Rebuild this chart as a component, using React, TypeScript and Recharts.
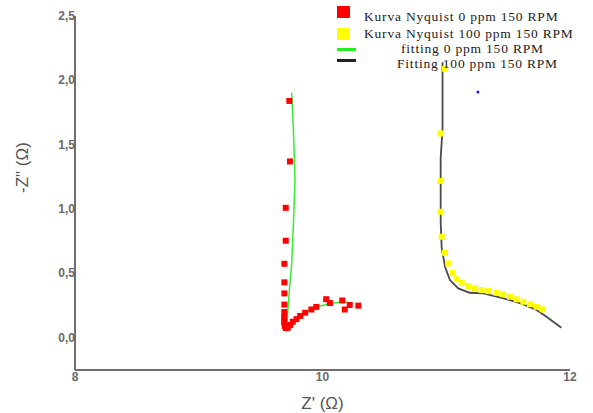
import React from "react";
import { ScatterChart, Scatter, XAxis, YAxis } from "recharts";

// Measured impedance, 0 ppm inhibitor at 150 RPM (Z', -Z'')
const nyquist0: { x: number; y: number }[] = [
  { x: 9.732, y: 1.84 },
  { x: 9.737, y: 1.37 },
  { x: 9.703, y: 1.01 },
  { x: 9.703, y: 0.754 },
  { x: 9.692, y: 0.575 },
  { x: 9.692, y: 0.431 },
  { x: 9.692, y: 0.345 },
  { x: 9.692, y: 0.258 },
  { x: 9.692, y: 0.2 },
  { x: 9.69, y: 0.16 },
  { x: 9.69, y: 0.12 },
  { x: 9.695, y: 0.09 },
  { x: 9.705, y: 0.075 },
  { x: 9.72, y: 0.08 },
  { x: 9.74, y: 0.1 },
  { x: 9.76, y: 0.125 },
  { x: 9.79, y: 0.145 },
  { x: 9.82, y: 0.17 },
  { x: 9.86, y: 0.195 },
  { x: 9.91, y: 0.22 },
  { x: 9.95, y: 0.24 },
  { x: 10.03, y: 0.3 },
  { x: 10.06, y: 0.27 },
  { x: 10.16, y: 0.29 },
  { x: 10.18, y: 0.22 },
  { x: 10.22, y: 0.255 },
  { x: 10.29, y: 0.25 },
];

// Measured impedance, 100 ppm inhibitor at 150 RPM
const nyquist100: { x: number; y: number }[] = [
  { x: 10.99, y: 2.09 },
  { x: 10.955, y: 1.588 },
  { x: 10.955, y: 1.218 },
  { x: 10.955, y: 0.979 },
  { x: 10.963, y: 0.785 },
  { x: 10.99, y: 0.661 },
  { x: 11.017, y: 0.578 },
  { x: 11.049, y: 0.505 },
  { x: 11.084, y: 0.456 },
  { x: 11.125, y: 0.428 },
  { x: 11.178, y: 0.402 },
  { x: 11.232, y: 0.384 },
  { x: 11.286, y: 0.371 },
  { x: 11.34, y: 0.363 },
  { x: 11.407, y: 0.35 },
  { x: 11.46, y: 0.338 },
  { x: 11.515, y: 0.32 },
  { x: 11.569, y: 0.299 },
  { x: 11.623, y: 0.28 },
  { x: 11.677, y: 0.262 },
  { x: 11.731, y: 0.241 },
  { x: 11.779, y: 0.221 },
];

// Equivalent-circuit fit, 0 ppm
const fit0: { x: number; y: number }[] = [
  { x: 9.751, y: 1.904 },
  { x: 9.764, y: 1.64 },
  { x: 9.778, y: 1.226 },
  { x: 9.764, y: 0.863 },
  { x: 9.751, y: 0.578 },
  { x: 9.73, y: 0.345 },
  { x: 9.716, y: 0.163 },
  { x: 9.711, y: 0.099 },
  { x: 9.751, y: 0.125 },
  { x: 9.845, y: 0.19 },
  { x: 9.95, y: 0.24 },
  { x: 10.06, y: 0.267 },
  { x: 10.17, y: 0.28 },
  { x: 10.25, y: 0.267 },
];

// Equivalent-circuit fit, 100 ppm
const fit100: { x: number; y: number }[] = [
  { x: 10.97, y: 2.14 },
  { x: 10.97, y: 1.62 },
  { x: 10.955, y: 1.4 },
  { x: 10.955, y: 0.9 },
  { x: 10.963, y: 0.7 },
  { x: 10.99, y: 0.552 },
  { x: 11.03, y: 0.449 },
  { x: 11.097, y: 0.384 },
  { x: 11.19, y: 0.35 },
  { x: 11.3, y: 0.345 },
  { x: 11.407, y: 0.32 },
  { x: 11.515, y: 0.293 },
  { x: 11.62, y: 0.262 },
  { x: 11.73, y: 0.216 },
  { x: 11.81, y: 0.163 },
  { x: 11.93, y: 0.078 },
];

// Stray marker
const strayPoint: { x: number; y: number }[] = [{ x: 11.256, y: 1.91 }];

const xTicks = [8, 10, 12];
const yTicks = [0, 0.5, 1, 1.5, 2, 2.5];

const legendItems = [
  { label: "Kurva Nyquist 0 ppm 150 RPM", kind: "square", color: "#ff0000", textLeft: 364, markTop: 6, textMid: 17 },
  { label: "Kurva Nyquist 100 ppm 150 RPM", kind: "square", color: "#ffff00", textLeft: 364, markTop: 28, textMid: 34 },
  { label: "fitting 0 ppm 150 RPM", kind: "line", color: "#22ee22", textLeft: 401, markTop: 48, textMid: 49 },
  { label: "Fitting 100 ppm 150 RPM", kind: "line", color: "#222222", textLeft: 397, markTop: 59, textMid: 64 },
];

const tickFont = "'Liberation Sans', Arial, sans-serif";

const Square = (size: number, color: string) => (props: any) => {
  const { cx, cy } = props;
  if (cx == null || cy == null) return null;
  return <rect x={cx - size / 2} y={cy - size / 2} width={size} height={size} fill={color} />;
};

const NoShape = () => null;

const BlueDot = (props: any) => {
  const { cx, cy } = props;
  return <circle cx={cx} cy={cy} r={1.5} fill="#1a1aff" />;
};

const YTick = (props: any) => {
  const { x, y, payload } = props;
  return (
    <text
      x={x + 8}
      y={y}
      dy={4}
      textAnchor="end"
      fontFamily={tickFont}
      fontSize={12}
      fontWeight="bold"
      fill="#6a6a6a"
    >
      {payload.value.toFixed(1).replace(".", ",")}
    </text>
  );
};

const XTick = (props: any) => {
  const { x, y, payload } = props;
  return (
    <text
      x={x}
      y={y}
      dy={3}
      textAnchor="middle"
      fontFamily={tickFont}
      fontSize={12}
      fontWeight="bold"
      fill="#6a6a6a"
    >
      {payload.value}
    </text>
  );
};

const LegendBox = () => (
  <div style={{ position: "absolute", left: 0, top: 0, width: 593, height: 80, pointerEvents: "none" }}>
    {legendItems.map((it) => (
      <React.Fragment key={it.label}>
        <div
          style={{
            position: "absolute",
            left: 337,
            top: it.markTop,
            width: it.kind === "square" ? 13 : 19,
            height: it.kind === "square" ? 12 : 3,
            background: it.color,
          }}
        />
        <div
          style={{
            position: "absolute",
            left: it.textLeft,
            top: it.textMid - 7,
            fontFamily: "'Liberation Serif', 'Times New Roman', serif",
            fontSize: 13.5,
            letterSpacing: "0.8px",
            lineHeight: "14px",
            color: "#222",
            whiteSpace: "nowrap",
          }}
        >
          {it.label}
        </div>
      </React.Fragment>
    ))}
  </div>
);

export default function App() {
  return (
    <div style={{ position: "absolute", left: 0, top: 0, width: 593, height: 413, background: "#fff" }}>
      <ScatterChart width={593} height={413} margin={{ top: 16, right: 23, bottom: 0, left: 0 }}>
        <XAxis
          type="number"
          dataKey="x"
          domain={[8, 12]}
          ticks={xTicks}
          allowDataOverflow
          height={43}
          tickLine={false}
          axisLine={{ stroke: "#6e6e6e", strokeWidth: 2 }}
          tick={<XTick />}
          label={{
            value: "Z' (Ω)",
            position: "insideBottom",
            offset: 4,
            fill: "#555",
            fontSize: 17,
            fontFamily: tickFont,
          }}
        />
        <YAxis
          type="number"
          dataKey="y"
          domain={[-0.25, 2.5]}
          ticks={yTicks}
          allowDataOverflow
          width={75}
          tickLine={false}
          axisLine={{ stroke: "#6e6e6e", strokeWidth: 2 }}
          tick={<YTick />}
          label={{
            value: "-Z\" (Ω)",
            angle: -90,
            position: "insideLeft",
            offset: 22,
            fill: "#555",
            fontSize: 17,
            fontFamily: tickFont,
          }}
        />
        <Scatter
          name="fitting 0 ppm 150 RPM"
          data={fit0}
          line={{ stroke: "#33ee33", strokeWidth: 1.5 }}
          lineType="joint"
          shape={NoShape}
          isAnimationActive={false}
        />
        <Scatter
          name="Fitting 100 ppm 150 RPM"
          data={fit100}
          line={{ stroke: "#4a4a4a", strokeWidth: 1.8 }}
          lineType="joint"
          shape={NoShape}
          isAnimationActive={false}
        />
        <Scatter
          name="Kurva Nyquist 0 ppm 150 RPM"
          data={nyquist0}
          shape={Square(6, "#ff0000")}
          isAnimationActive={false}
        />
        <Scatter
          name="Kurva Nyquist 100 ppm 150 RPM"
          data={nyquist100}
          shape={Square(6, "#ffff00")}
          isAnimationActive={false}
        />
        <Scatter data={strayPoint} shape={BlueDot} isAnimationActive={false} legendType="none" />
      </ScatterChart>
      <LegendBox />
    </div>
  );
}
